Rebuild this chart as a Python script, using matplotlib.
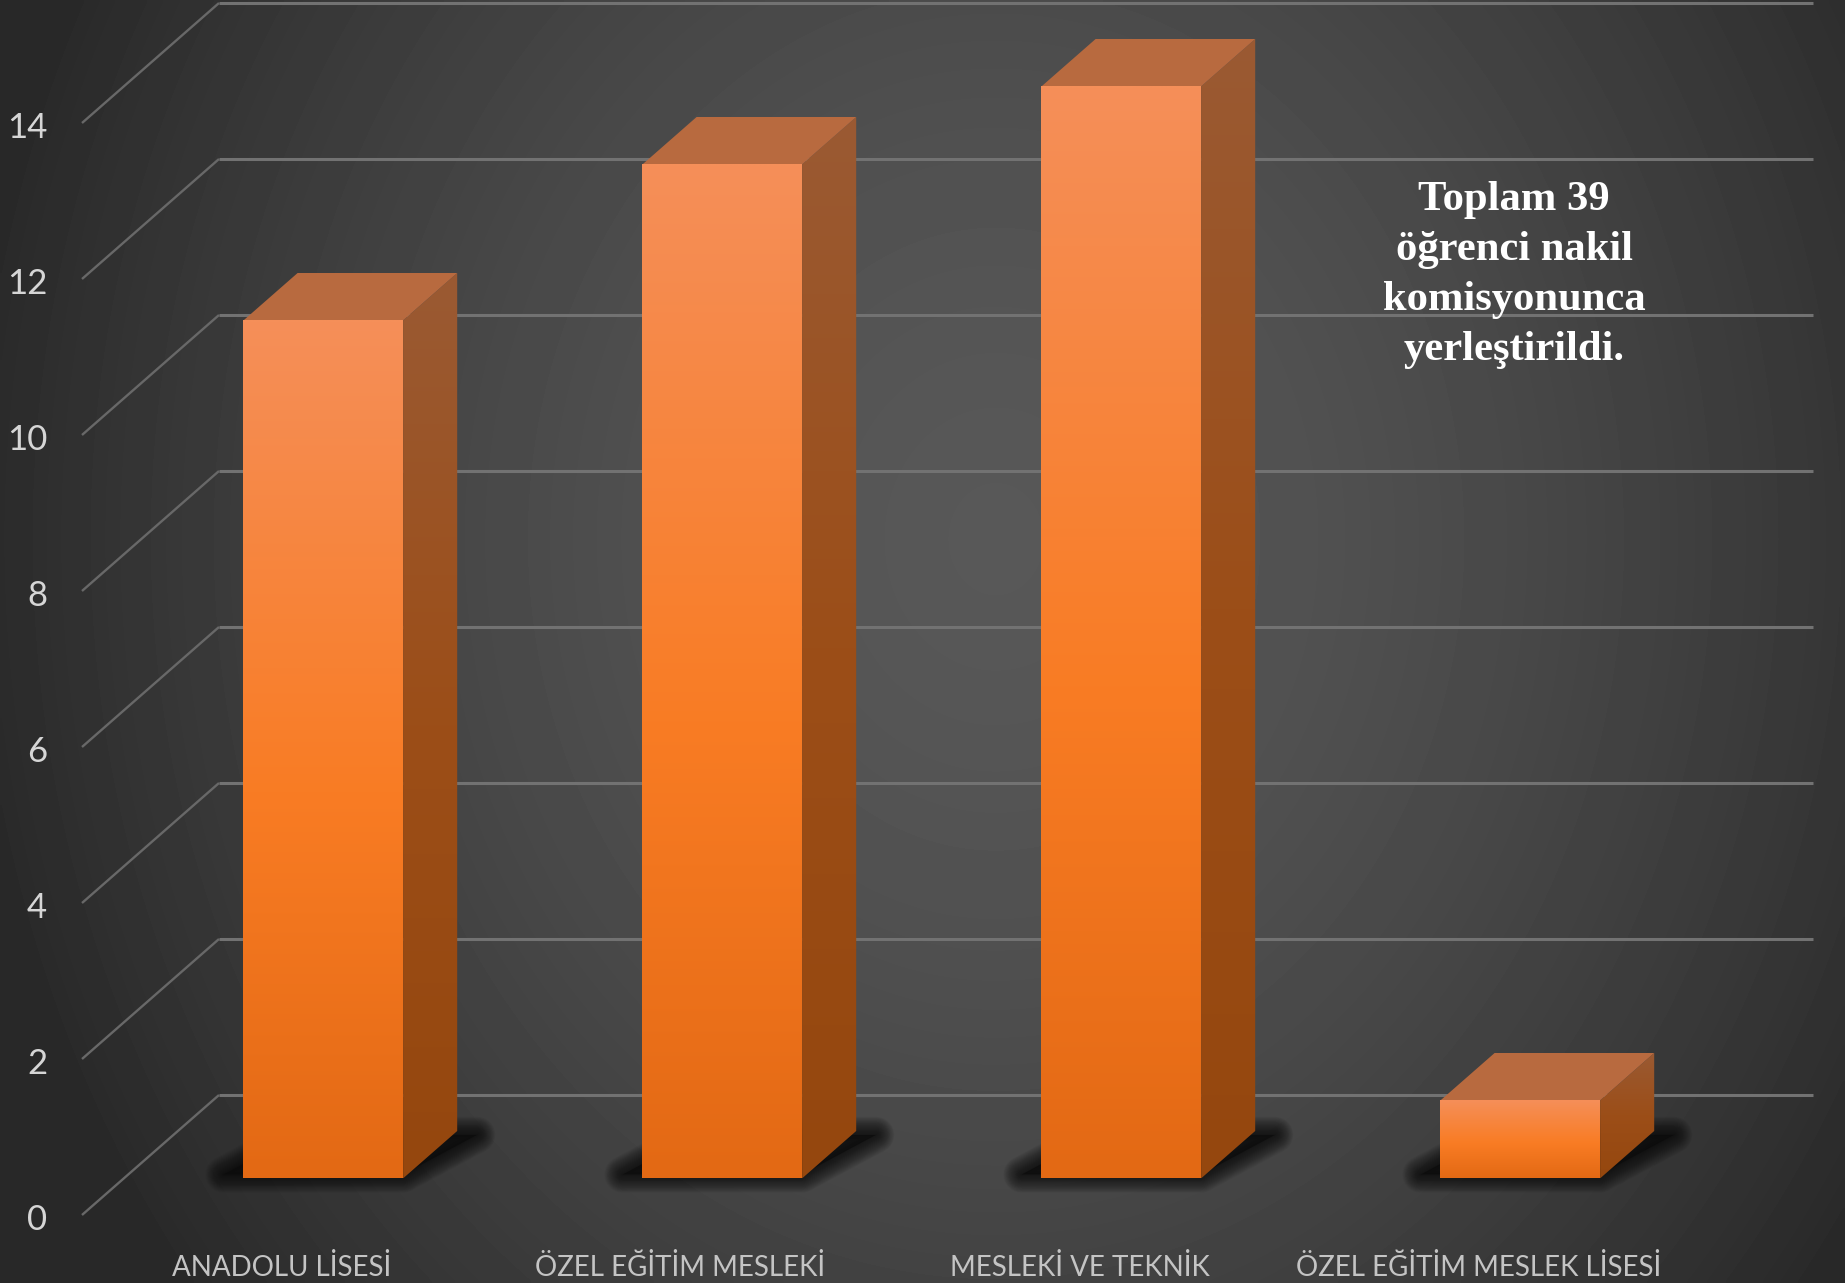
import numpy as np
import matplotlib
matplotlib.use('Agg')
import matplotlib.pyplot as plt
from matplotlib.patches import Polygon
from matplotlib.transforms import ScaledTranslation

categories = ['ANADOLU LİSESİ', 'ÖZEL EĞİTİM MESLEKİ', 'MESLEKİ VE TEKNİK', 'ÖZEL EĞİTİM MESLEK LİSESİ']
values = [11, 13, 14, 1]
y_ticks = [0, 2, 4, 6, 8, 10, 12, 14]
note_lines = ['Toplam 39', 'öğrenci nakil', 'komisyonunca', 'yerleştirildi.']

W, H = 1845, 1283
LEFT, RIGHT, ZERO_Y = 82, 1813, 1215
CAT_PX = 399.0
UNIT_PX = 78.0
DX = 137 / CAT_PX   # floor depth in category units
DY = 120 / UNIT_PX  # floor depth in value units
BAR_W = 0.40
T0, T1 = 0.305, 0.70  # bar position along the floor depth


def vertical_gradient(stops, colors, n=256):
    t = np.linspace(0, 1, n)
    rgb = [np.interp(t, stops, [matplotlib.colors.to_rgb(c)[i] for c in colors]) for i in range(3)]
    return np.stack(rgb, axis=1)[:, None, :]


def gradient_poly(ax, pts, stops, colors, zorder):
    xs = [p[0] for p in pts]
    ys = [p[1] for p in pts]
    im = ax.imshow(vertical_gradient(stops, colors), aspect='auto', zorder=zorder, interpolation='bilinear',
                   extent=[min(xs), max(xs), min(ys), max(ys)], origin='upper')
    im.set_clip_path(Polygon(pts, closed=True, transform=ax.transData))


fig = plt.figure(figsize=(W / 100, H / 100), dpi=100)

# dark radial background
bg = fig.add_axes([0, 0, 1, 1])
yy, xx = np.mgrid[0:1:320j, 0:1:460j]
r = np.sqrt(((xx - 0.54) / 0.56) ** 2 + ((yy - 0.42) / 0.95) ** 2)
shade = 0x58 - (0x58 - 0x29) * np.clip(r, 0, 1) ** 1.6
bg.imshow(shade / 255.0, cmap='gray', vmin=0, vmax=1, aspect='auto', interpolation='bilinear')
bg.axis('off')

ax = fig.add_axes([LEFT / W, 1 - ZERO_Y / H, (RIGHT - LEFT) / W, ZERO_Y / H])
ax.patch.set_alpha(0)
x0 = -0.5
x1 = x0 + (RIGHT - LEFT) / CAT_PX
y1 = ZERO_Y / UNIT_PX

# gridlines, side wall then back wall
for v in y_ticks:
    ax.plot([x0, x0 + DX], [v, v + DY], color='#686868', lw=1.7, zorder=1, clip_on=False, solid_capstyle='butt')
    ax.plot([x0 + DX, x1], [v + DY, v + DY], color='#727272', lw=2.2, zorder=1, clip_on=False, solid_capstyle='butt')

for i, v in enumerate(values):
    fx0 = i - BAR_W / 2 + T0 * DX
    fx1 = i + BAR_W / 2 + T0 * DX
    bx0 = i - BAR_W / 2 + T1 * DX
    bx1 = i + BAR_W / 2 + T1 * DX
    fy = T0 * DY
    by = T1 * DY

    # soft shadow on the floor
    margin = 0.05
    foot = [(fx0 - margin, fy + 0.05), (fx1, fy + 0.05), (bx1 + margin, by - 0.05), (bx0, by - 0.05)]
    for lw in np.linspace(26, 1, 22):
        ax.fill(*zip(*foot), facecolor='none', edgecolor='#0a0a0a', lw=lw, alpha=0.05, zorder=2, joinstyle='round')
    ax.fill(*zip(*foot), facecolor='#0a0a0a', edgecolor='none', alpha=0.65, zorder=2)

    front = [(fx0, fy), (fx1, fy), (fx1, fy + v), (fx0, fy + v)]
    side = [(fx1, fy), (bx1, by), (bx1, by + v), (fx1, fy + v)]
    top = [(fx0, fy + v), (fx1, fy + v), (bx1, by + v), (bx0, by + v)]

    gradient_poly(ax, side, [0, 0.5, 1], ['#9a5a33', '#9c4e18', '#95470e'], 3)
    ax.fill(*zip(*top), facecolor='#b86a3f', edgecolor='none', zorder=3)
    gradient_poly(ax, front, [0, 0.55, 1], ['#f58f59', '#f97c24', '#e36914'], 4)

ax.set_xlim(x0, x1)
ax.set_ylim(0, y1)
ax.set_xticks(range(len(categories)))
ax.set_xticklabels(categories, family='Lato', fontsize=20, color='#c4c4c4')
ax.set_yticks(y_ticks)
ax.set_yticklabels([str(v) for v in y_ticks], family='Lato', fontsize=25, color='#d6d6d6')
ax.tick_params(axis='x', length=0, pad=28)
ax.tick_params(axis='y', length=0, pad=25)
shift = ScaledTranslation(0, -2.5 / 100, fig.dpi_scale_trans)
for lab in ax.get_yticklabels():
    lab.set_transform(lab.get_transform() + shift)
for s in ax.spines.values():
    s.set_visible(False)

fig.text(1514 / W, 1 - 275 / H, '\n'.join(note_lines), ha='center', va='center', color='white', fontsize=30.7,
         family='Liberation Serif', fontweight='bold', linespacing=1.42)

fig.savefig('out.png', dpi=100)
